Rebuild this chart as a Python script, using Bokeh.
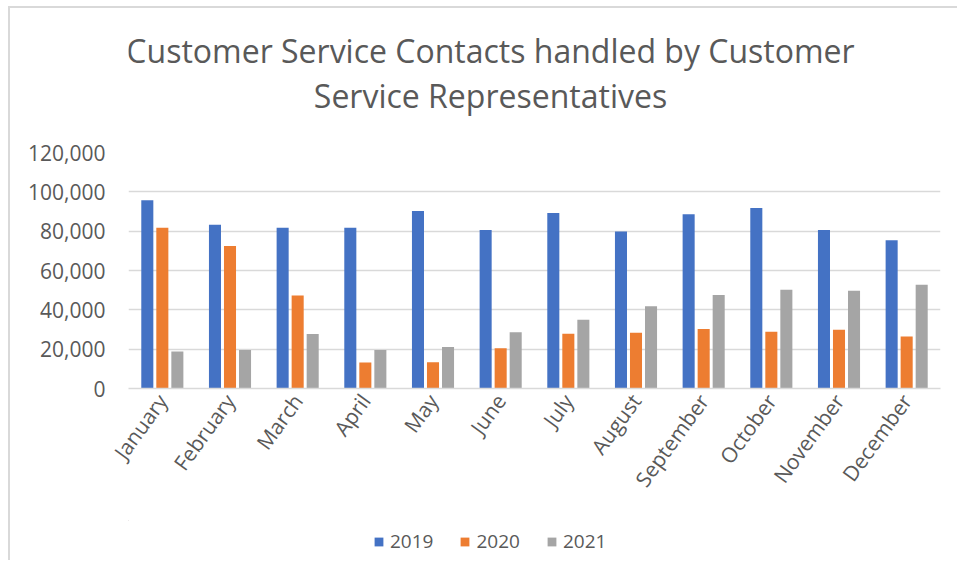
from bokeh.plotting import figure
from bokeh.models import (ColumnDataSource, FactorRange, NumeralTickFormatter, Legend, LegendItem,
                          Label, FixedTicker, Range1d)
from bokeh.layouts import column
from bokeh.transform import dodge
from bokeh.embed import file_html
from bokeh.resources import INLINE
import math

months = ["January", "February", "March", "April", "May", "June", "July",
          "August", "September", "October", "November", "December"]
y2019 = [95700, 83200, 81700, 81800, 90300, 80600, 89300, 79800, 88600, 91800, 80600, 75400]
y2020 = [81700, 72500, 47300, 13200, 13400, 20500, 27900, 28400, 30300, 28900, 29900, 26500]
y2021 = [18800, 19600, 27700, 19600, 21100, 28600, 35000, 41800, 47500, 50200, 49700, 52700]
series = ["2019", "2020", "2021"]
colors = ["#4472C4", "#ED7D31", "#A5A5A5"]
title_lines = ["Customer Service Contacts handled by Customer", "Service Representatives"]
y_ticks = [0, 20000, 40000, 60000, 80000, 100000, 120000]

src = ColumnDataSource(dict(month=months, y2019=y2019, y2020=y2020, y2021=y2021))

FONT = "Open Sans"
TXT = "#595959"
W = 947
FL, FR = 128, 940   # page x of the main frame (column aligns frames)


def blank(h):
    f = figure(width=W, height=h, x_range=Range1d(FL, FR), y_range=Range1d(h, 0),
               x_axis_type=None, y_axis_type=None, output_backend="svg",
               toolbar_location=None, min_border=0)
    f.outline_line_color = None
    f.grid.visible = False
    f.background_fill_color = "white"
    f.border_fill_color = "white"
    return f


# ---- title block ----
tfig = blank(130)
for t, ty in zip(title_lines, [42, 87]):
    tfig.add_layout(Label(x=490, y=ty, text=t, text_align="center", text_baseline="alphabetic",
                          text_font=FONT, text_font_size="32px", text_color=TXT))

# ---- main chart ----
p = figure(x_range=FactorRange(*months), y_range=(0, 120000),
           width=W, height=382, output_backend="svg", toolbar_location=None,
           min_border_left=118, min_border_right=17, min_border_top=14, min_border_bottom=132)
p.outline_line_color = None
p.background_fill_color = "white"
p.border_fill_color = "white"

for i, (s, c) in enumerate(zip(series, colors)):
    p.vbar(x=dodge("month", (i - 1) * 0.222, range=p.x_range), top="y" + s, width=0.178,
           source=src, fill_color=c, line_color=None)

p.xgrid.grid_line_color = None
p.ygrid.grid_line_color = "#d9d9d9"
p.ygrid.grid_line_width = 1.5

p.yaxis.ticker = FixedTicker(ticks=y_ticks)
p.yaxis.formatter = NumeralTickFormatter(format="0,0")
p.yaxis.axis_line_color = None
p.yaxis.major_tick_line_color = None
p.yaxis.minor_tick_line_color = None
p.yaxis.major_tick_out = 0
p.yaxis.major_label_standoff = 23
p.yaxis.major_label_text_font = FONT
p.yaxis.major_label_text_font_size = "21px"
p.yaxis.major_label_text_color = TXT

p.xaxis.axis_line_color = "#d9d9d9"
p.xaxis.axis_line_width = 1.5
p.xaxis.major_tick_line_color = None
p.xaxis.minor_tick_line_color = None
p.xaxis.major_tick_out = 0
p.xaxis.major_label_orientation = math.radians(54)
p.xaxis.major_label_standoff = 8
p.xaxis.major_label_text_font = FONT
p.xaxis.major_label_text_font_size = "21px"
p.xaxis.major_label_text_color = TXT

# ---- legend block (proxy bars sit far outside the visible ranges) ----
lfig = blank(40)
items = []
for s, c in zip(series, colors):
    r = lfig.vbar(x=[-5000], top=[-4000], bottom=[-5000], width=1, fill_color=c, line_color=None)
    items.append(LegendItem(label=s, renderers=[r]))
legend = Legend(items=items, orientation="horizontal", location=(245, 6),
                label_text_font=FONT, label_text_font_size="19px", label_text_color=TXT,
                glyph_width=11, glyph_height=11, label_standoff=6, spacing=26,
                border_line_color=None, background_fill_alpha=0, margin=0, padding=5)
lfig.add_layout(legend)

layout = column(tfig, p, lfig, spacing=0)
layout.styles = {"border-left": "2px solid #d9d9d9", "border-top": "2px solid #d9d9d9",
                 "margin-left": "8px", "margin-top": "6px"}

open("out.html", "w").write(file_html(layout, INLINE))
